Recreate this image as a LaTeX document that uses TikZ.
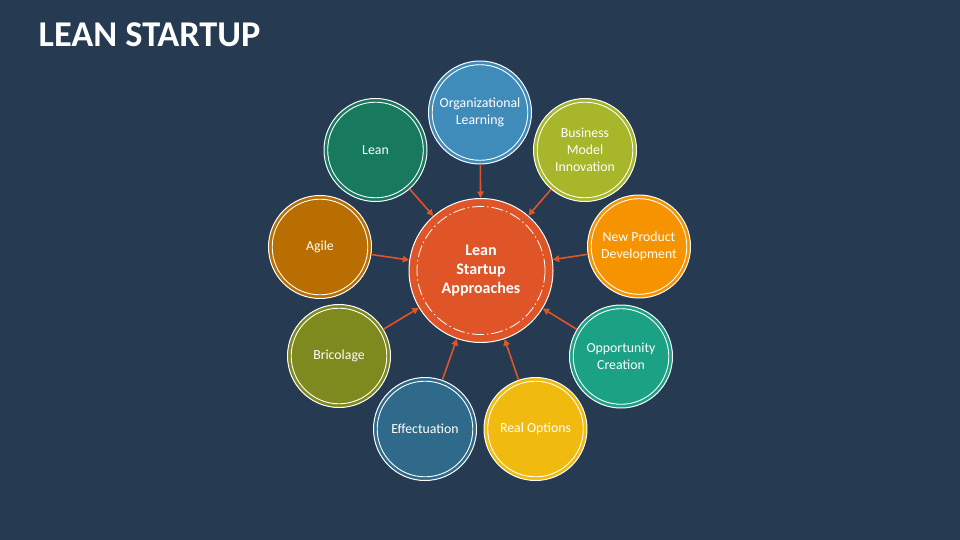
\documentclass[tikz,border=0pt]{standalone}
\usepackage{fontspec}
\setmainfont{Carlito}
\usetikzlibrary{arrows.meta}
\definecolor{bg}{HTML}{263A52}
\definecolor{corange}{HTML}{E05527}
\definecolor{cblue}{HTML}{3F8CBA}
\definecolor{cgreen}{HTML}{177A5F}
\definecolor{clime}{HTML}{A8B62A}
\definecolor{camber}{HTML}{F59300}
\definecolor{cteal}{HTML}{1BA184}
\definecolor{cyellow}{HTML}{F0BA0E}
\definecolor{csteel}{HTML}{306A8A}
\definecolor{colive}{HTML}{7E8A1D}
\definecolor{cbrown}{HTML}{B86E00}
\tikzset{
  petal/.style={circle, minimum size=103pt, inner sep=0pt, fill=#1, draw=white,
    line width=1pt, text=white, align=center,
    font=\fontsize{13.8pt}{17pt}\selectfont,
    path picture={\draw[white, line width=0.9pt] (path picture bounding box.center) circle (47.8pt);}},
  hub/.style={circle, minimum size=144pt, inner sep=0pt, fill=corange, draw=white,
    line width=1pt, text=white, align=center,
    font=\bfseries\fontsize{16pt}{19pt}\selectfont,
    path picture={\draw[white, line width=0.8pt, dash pattern=on 12pt off 3pt on 1.5pt off 3pt] (path picture bounding box.center) circle (64pt);}},
  feed/.style={draw=corange, line width=1.6pt, -{Triangle[length=6.5pt,width=6.5pt]}},
  titletext/.style={anchor=base west, inner sep=0pt, text=white, font=\bfseries\fontsize{36.3pt}{40pt}\selectfont}
}
\begin{document}
\begin{tikzpicture}[x=1pt,y=-1pt]
\fill[bg] (0,0) rectangle (960,540);
\useasboundingbox (0,0) rectangle (960,540);
\node[titletext] (title) at (38.5,47) {LEAN STARTUP};
\node[hub] (hubc) at (481,270.5) {Lean\\Startup\\Approaches};
\node[petal=cblue] (org) at (480,112.5) {Organizational\\Learning};
\node[petal=cgreen] (lean) at (375.5,150) {Lean};
\node[petal=clime] (bmi) at (585,150) {Business\\Model\\Innovation};
\node[petal=cbrown] (agile) at (320,247) {Agile};
\node[petal=camber] (npd) at (639,246.5) {New Product\\Development};
\node[petal=colive] (bric) at (339,356) {Bricolage};
\node[petal=cteal] (opp) at (621,356.5) {Opportunity\\Creation};
\node[petal=csteel] (eff) at (425,429) {Effectuation};
\node[petal=cyellow] (ro) at (535.5,429) {Real Options};
\foreach \n in {org,lean,bmi,agile,npd,bric,opp,eff,ro}
  \draw[feed] (\n) -- (hubc);
\end{tikzpicture}
\end{document}
